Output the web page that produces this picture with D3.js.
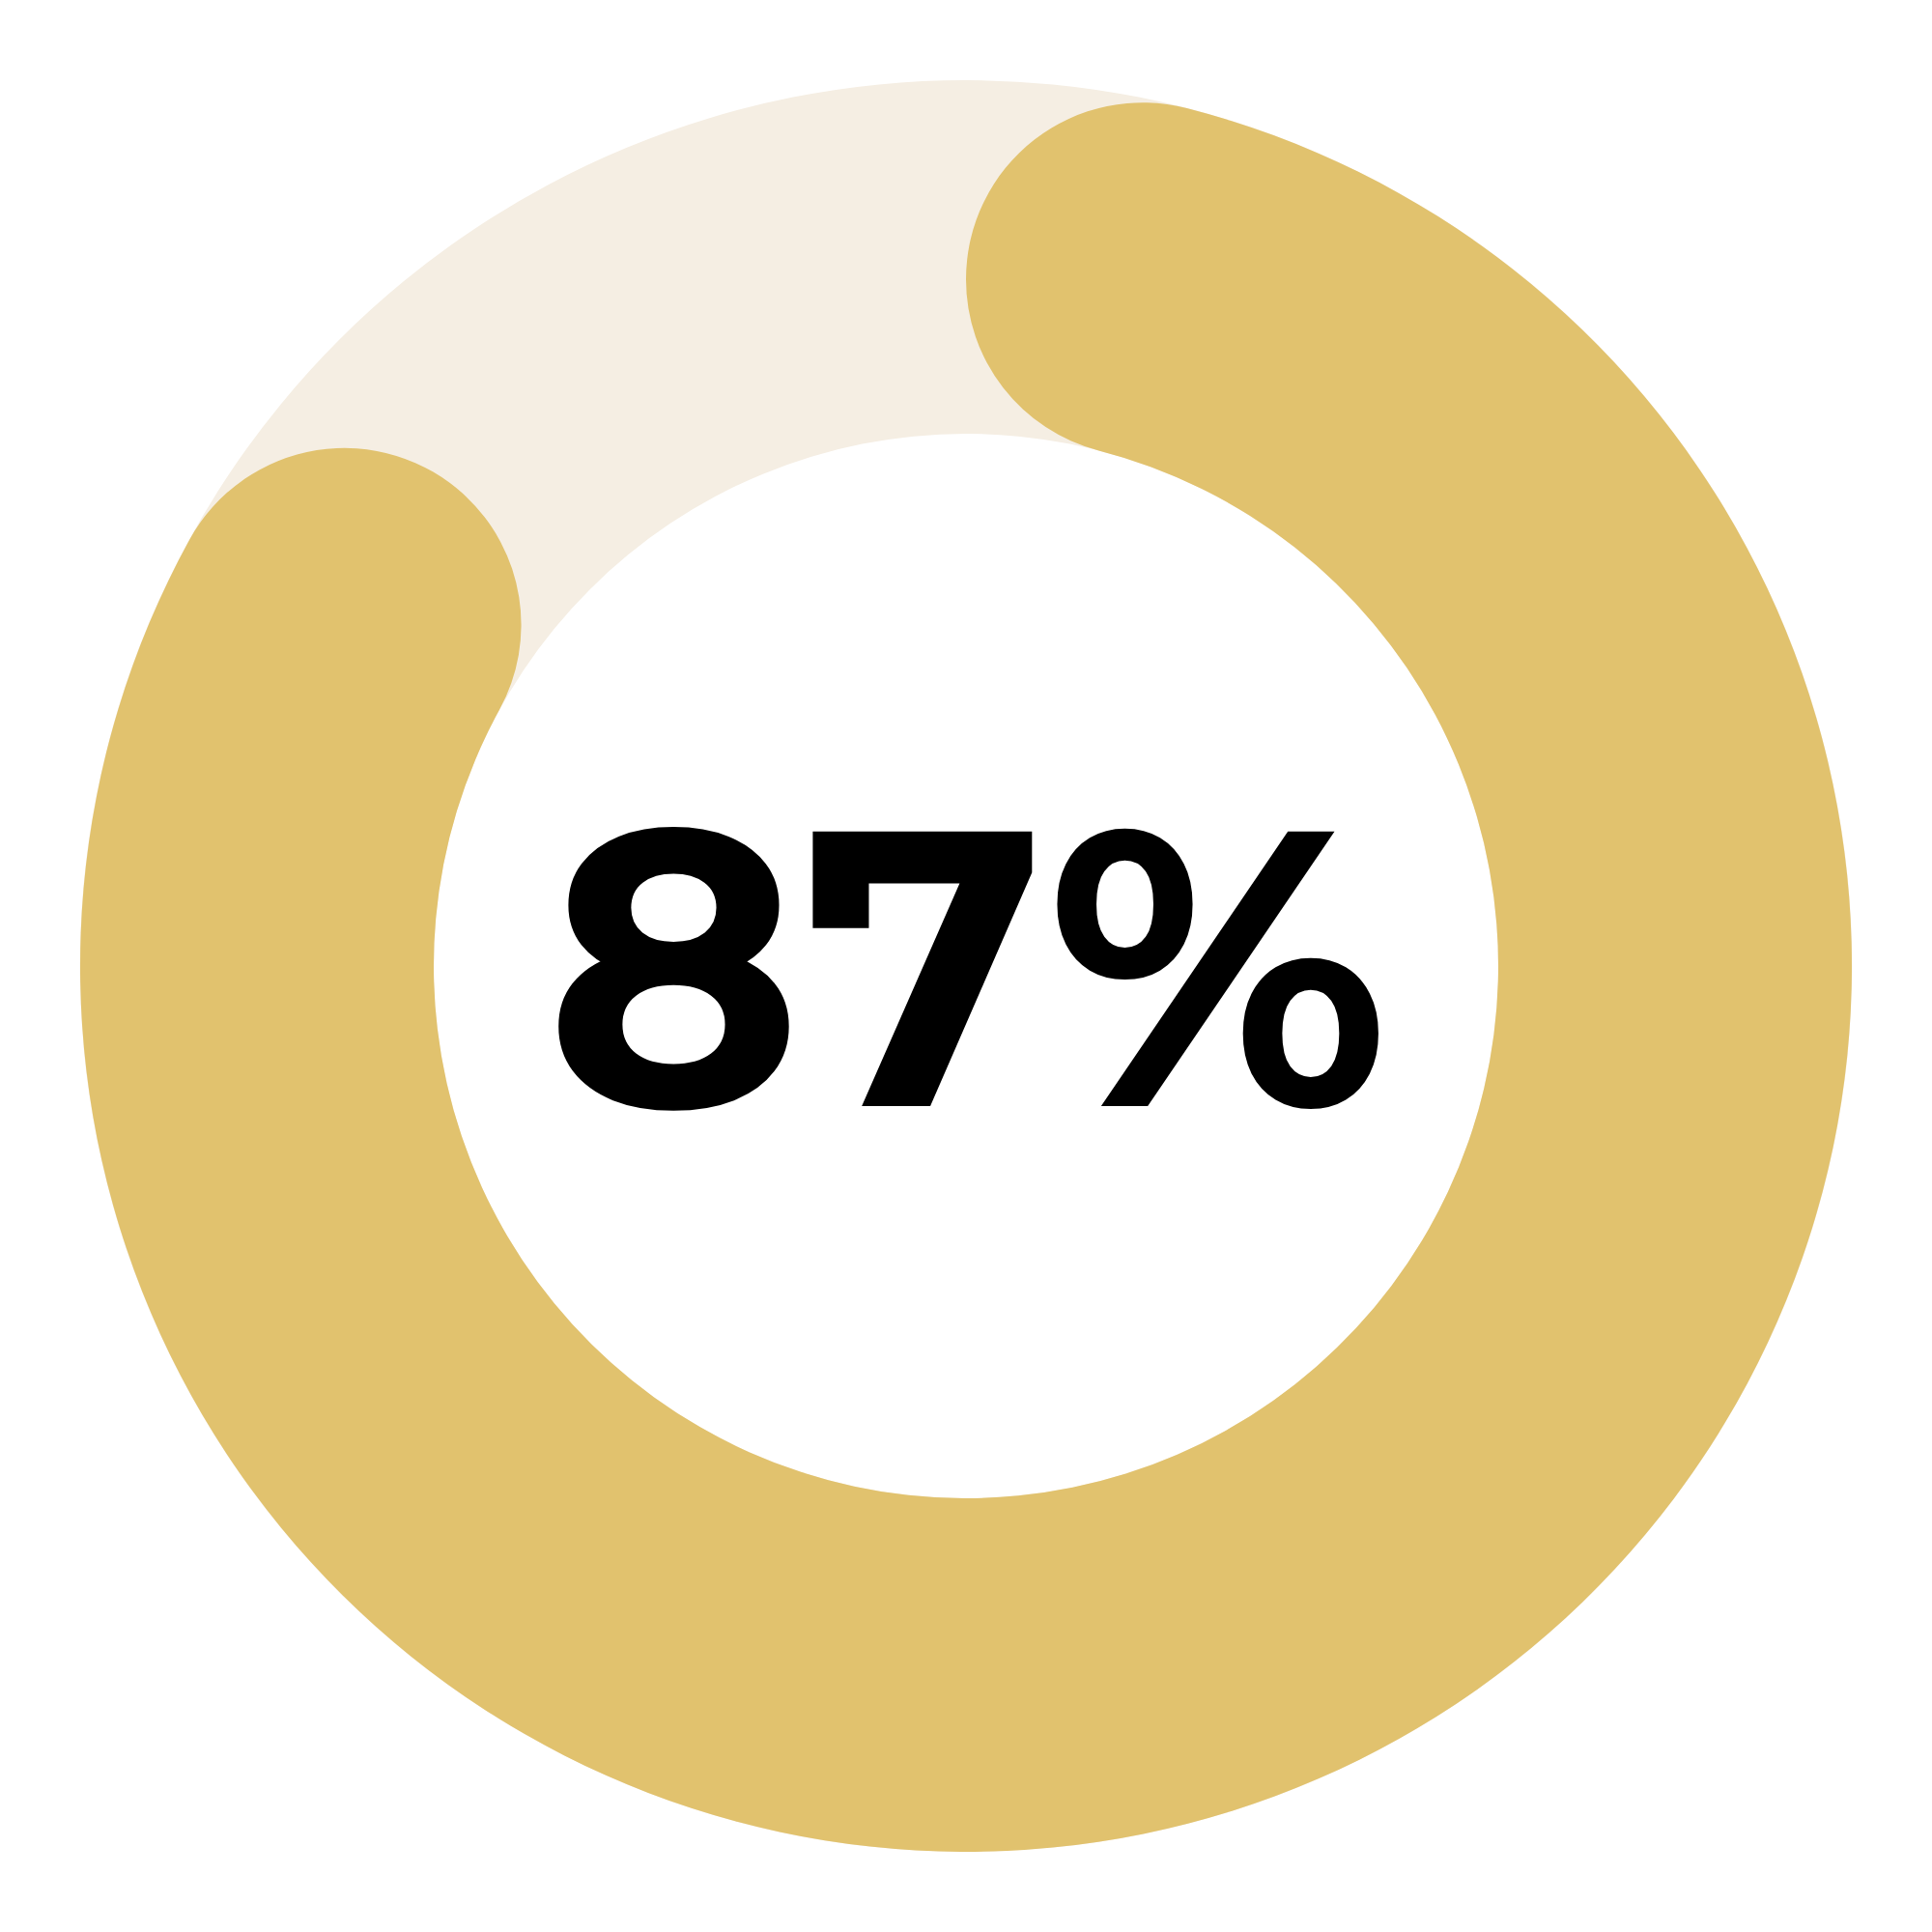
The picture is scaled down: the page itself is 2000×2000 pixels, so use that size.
<!DOCTYPE html>
<html>
<head>
<meta charset="utf-8">
<script src="https://cdn.jsdelivr.net/npm/d3@7"></script>
<style>
  html, body { margin: 0; padding: 0; background: #ffffff; }
  svg { display: block; }
</style>
</head>
<body>
<script>
// Data
const categories = ["Progress"];
const values = [87];
const maxValue = [100];
const labelText = ["87%"];

const W = 2000, H = 2000;
const cx = 1000, cy = 1000;
const outerR = 917, innerR = 551;

const svg = d3.select("body").append("svg")
  .attr("width", W).attr("height", H)
  .attr("viewBox", `0 0 ${W} ${H}`);

const angle = d3.scaleLinear().domain([0, maxValue[0]]).range([0, 2 * Math.PI]);

const g = svg.append("g").attr("transform", `translate(${cx},${cy})`);

// Background track
const trackArc = d3.arc().innerRadius(innerR).outerRadius(outerR)
  .startAngle(0).endAngle(2 * Math.PI);
g.append("path").attr("d", trackArc()).attr("fill", "#F5EEE3");

// Value arc with rounded ends
const valArc = d3.arc().innerRadius(innerR).outerRadius(outerR)
  .cornerRadius((outerR - innerR) / 2);
g.selectAll("path.value").data(values).enter().append("path")
  .attr("class", "value")
  .attr("d", d => valArc({ startAngle: angle(0), endAngle: angle(d) }))
  .attr("fill", "#E1C26E");

// Center label
const txt = svg.append("text")
  .attr("x", cx + 1).attr("y", 1145)
  .attr("text-anchor", "middle")
  .attr("font-family", "Montserrat, 'Open Sans', sans-serif")
  .attr("font-weight", 700)
  .attr("font-size", 406)
  .attr("fill", "#000000")
  .text(labelText[0]);

txt.attr("textLength", 874).attr("lengthAdjust", "spacingAndGlyphs");
</script>
</body>
</html>
